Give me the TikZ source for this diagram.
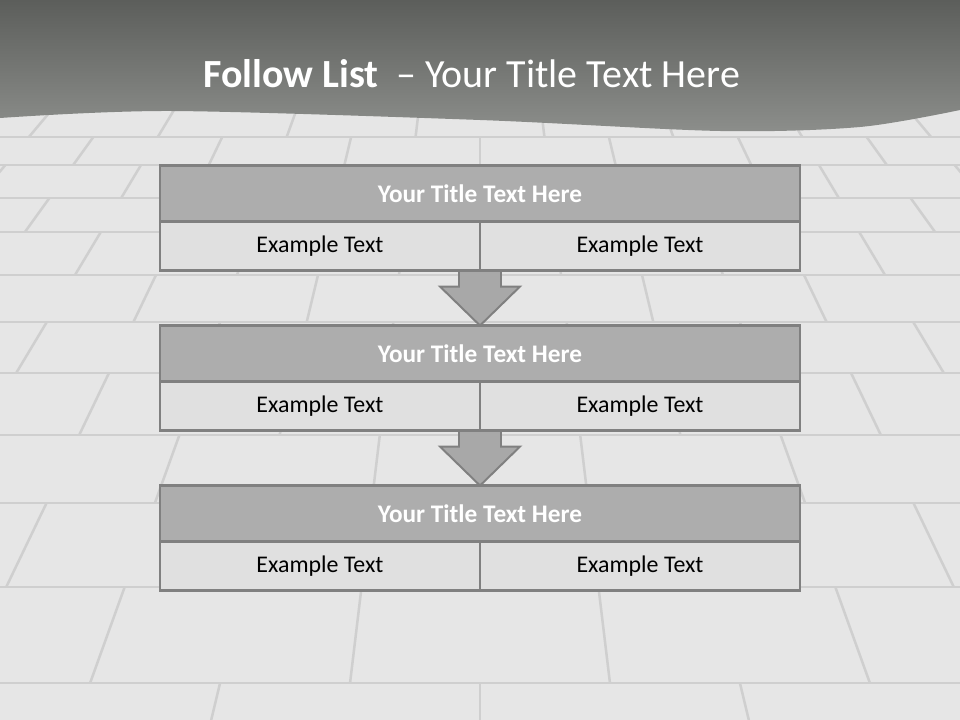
\documentclass[tikz,border=0pt]{standalone}
\usepackage{fontspec}
\setmainfont{Carlito}
\usepackage{tikz}
\usetikzlibrary{positioning,calc,backgrounds}
\usepackage{xcolor}
\definecolor{bandtop}{HTML}{5C5E5B}
\definecolor{bandbot}{HTML}{8C8E8B}
\definecolor{floorcol}{HTML}{E6E6E6}
\definecolor{jointcol}{HTML}{CFCFCF}
\definecolor{boxline}{HTML}{808080}
\definecolor{titlefill}{HTML}{ADADAD}
\definecolor{cellfill}{HTML}{E0E0E0}
\definecolor{arrowfill}{HTML}{A8A8A8}
\newcommand{\flowarrow}[2]{% #1 shaft top, #2 tip
  \filldraw[fill=arrowfill, draw=boxline, line width=1.4pt, line join=miter]
    ($(#1)+(-0.525cm,0)$) -- ($(#1)+(-0.525cm,-0.4cm)$) -- ($(#1)+(-1cm,-0.4cm)$)
    -- (#2) -- ($(#1)+(1cm,-0.4cm)$) -- ($(#1)+(0.525cm,-0.4cm)$) -- ($(#1)+(0.525cm,0)$) -- cycle;
}
\pgfdeclarelayer{floor}
\pgfdeclarelayer{arrows}
\pgfsetlayers{floor,arrows,main}

\begin{document}
\begin{tikzpicture}[x=0.025cm, y=-0.025cm,
    tileline/.style={draw=jointcol, line width=1.8pt},
    titlerow/.style={draw=boxline, line width=2pt, fill=titlefill, minimum width=16cm, minimum height=1.4cm,
      inner sep=0pt, outer sep=0pt, text=white, font=\fontsize{18}{21}\selectfont\bfseries},
    cellrow/.style={draw=boxline, line width=2pt, fill=cellfill, minimum width=8cm, minimum height=1.225cm,
      inner sep=0pt, outer sep=0pt, font=\fontsize{17}{20}\selectfont}]
  \useasboundingbox (0,0) rectangle (960,720);
  % tiled floor and title band
  \begin{pgfonlayer}{floor}
    \fill[floorcol] (0,0) rectangle (960,720);
    \begin{scope}
      \clip (0,0) rectangle (960,720);
      \foreach \ya/\yb [count=\i] in {100/137,137/165,165/198,198/232,232/275,275/322,322/373,373/435,435/503,503/587,587/683,683/800}{
        \draw[tileline] (0,\yb) -- (960,\yb);
        \foreach \k in {-5,...,5}{
          \pgfmathsetmacro\u{(\k+0.5*mod(\i,2))*0.24}
          \draw[tileline] ({480+\u*(\ya+400)},\ya) -- ({480+\u*(\yb+400)},\yb);
        }
      }
    \end{scope}
    \shade[top color=bandtop, bottom color=bandbot] (0,0) -- (0,118)
      -- plot[smooth] coordinates {(0,118) (170,111) (480,120) (720,131) (860,127) (960,110)}
      -- (960,0) -- cycle;
  \end{pgfonlayer}
  \node[anchor=base west, text=white, font=\fontsize{28.4}{33}\selectfont, inner sep=0pt] (heading) at (203,88)
    {\textbf{Follow List}\ \ – Your Title Text Here};
  % list
  \node[titlerow] (t1) at (480,193.5) {Your Title Text Here};
  \node[cellrow, anchor=north east] (e1a) at (t1.south) {Example Text};
  \node[cellrow, anchor=north west] (e1b) at (t1.south) {Example Text};
  \node[titlerow, below=1.375cm of e1a.south east] (t2) {Your Title Text Here};
  \node[cellrow, anchor=north east] (e2a) at (t2.south) {Example Text};
  \node[cellrow, anchor=north west] (e2b) at (t2.south) {Example Text};
  \node[titlerow, below=1.375cm of e2a.south east] (t3) {Your Title Text Here};
  \node[cellrow, anchor=north east] (e3a) at (t3.south) {Example Text};
  \node[cellrow, anchor=north west] (e3b) at (t3.south) {Example Text};
  \begin{pgfonlayer}{arrows}
    \flowarrow{e1a.south east}{t2.north}
    \flowarrow{e2a.south east}{t3.north}
  \end{pgfonlayer}
\end{tikzpicture}
\end{document}
